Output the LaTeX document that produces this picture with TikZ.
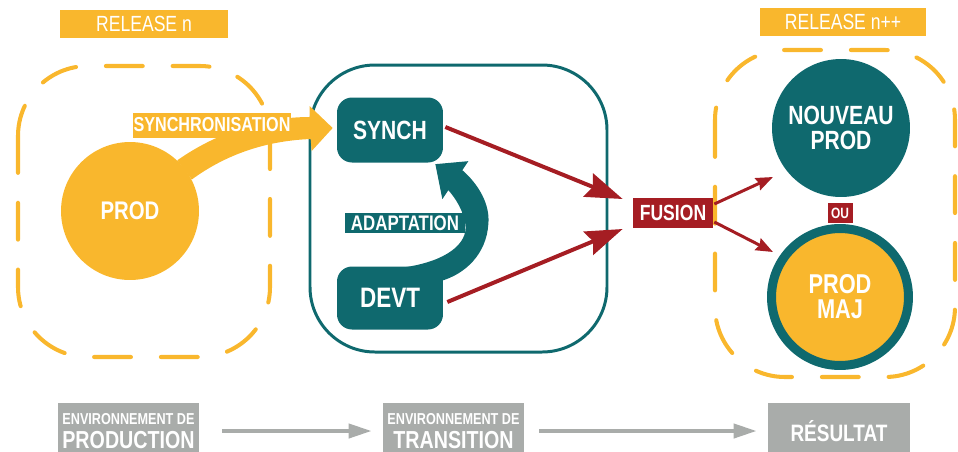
\documentclass[tikz,border=0pt]{standalone}
\usepackage{fontspec}
\setmainfont{Liberation Sans}[FakeStretch=0.8]
\usetikzlibrary{arrows.meta,calc}
\definecolor{ylw}{HTML}{F9B72D}
\definecolor{tl}{HTML}{0F696E}
\definecolor{rd}{HTML}{A51D23}
\definecolor{gr}{HTML}{A9ACAA}
\begin{document}
\begin{tikzpicture}[x=0.02cm,y=-0.02cm,
  dashbox/.style={draw=ylw, line width=2.3pt, dash pattern=on 21pt off 17pt, line cap=round, rounded corners=1.4cm},
  relbox/.style={fill=ylw, text=white, minimum width=3.36cm, minimum height=0.56cm, inner sep=0pt, font=\fontsize{12.5}{14}\selectfont},
  rbox/.style={fill=tl, rounded corners=0.3cm, minimum width=2.12cm, text=white, inner sep=0pt, font=\bfseries\fontsize{15}{16}\selectfont},
  bigcirc/.style={circle, inner sep=0pt, text=white, align=center, font=\bfseries\fontsize{14.5}{13.6}\selectfont},
  tagbox/.style={inner sep=0pt, text=white, font=\bfseries\fontsize{11.5}{12}\selectfont},
  envbox/.style={fill=gr, text=white, inner sep=0pt, minimum height=1.12cm, align=center, font=\bfseries\fontsize{14}{12.5}\selectfont},
  redarrow/.style={draw=rd, line width=0.08cm, -{Stealth[length=0.74cm,width=0.5cm,inset=0.1cm]}},
  smallarrow/.style={draw=rd, line width=0.06cm, -{Stealth[length=0.34cm,width=0.26cm,inset=0.04cm]}},
  grayarrow/.style={draw=gr, line width=0.08cm, -{Triangle[length=0.46cm,width=0.28cm]}},
]
\useasboundingbox (0,0) rectangle (958,451);

% release labels
\node[relbox] (rel1) at (144,24) {RELEASE n};
\node[relbox, minimum width=3.34cm] (rel2) at (843,22) {RELEASE n++};

% dashed groups and transition frame
\draw[dashbox] (18,66) rectangle (270,357);
\draw[dashbox] (715,50) rectangle (955,377);
\draw[draw=tl, line width=1.7pt, rounded corners=1.3cm] (310,65) rectangle (607,352);

% main nodes
\node[bigcirc, fill=ylw, minimum size=2.76cm] (prod) at (130,211) {PROD};
\node[rbox, minimum height=1.3cm] (synch) at (390,130) {SYNCH};
\node[rbox, minimum height=1.26cm, font=\bfseries\fontsize{16}{17}\selectfont] (devt) at (390,298) {DEVT};
\node[tagbox, fill=rd, minimum width=1.6cm, minimum height=0.6cm, font=\bfseries\fontsize{12.5}{13}\selectfont] (fusion) at (673,213) {FUSION};
\node[bigcirc, fill=tl, minimum size=2.76cm, font=\bfseries\fontsize{15}{13.8}\selectfont] (nouveau) at (841,128) {NOUVEAU\\PROD};
\node[bigcirc, fill=ylw, draw=tl, line width=0.18cm, minimum size=2.74cm, font=\bfseries\fontsize{15.5}{14.2}\selectfont] (prodmaj) at (840,297) {PROD\\MAJ};
\node[tagbox, fill=rd, minimum width=0.5cm, minimum height=0.4cm, font=\bfseries\fontsize{8.5}{9}\selectfont] (ou) at (840,213) {OU};

% synchronisation arrow
\fill[ylw] (prod.47) .. controls +(40,-28) and +(-45,0) .. ($(synch.west)+(-27,-13)$)
  -- ($(synch.west)+(-27,-24)$) -- ($(synch.west)+(-4,-2)$) -- ($(synch.west)+(-25,21)$)
  -- ($(synch.west)+(-26,9)$) .. controls +(-50,2) and +(30,-22) .. (prod.27) -- cycle;
\node[tagbox, fill=ylw, minimum width=3.18cm, minimum height=0.5cm] (synclab) at (212,125) {SYNCHRONISATION};

% adaptation arrow
\coordinate (A) at (devt.north east);
\fill[tl] ($(A)+(-38,1)$) .. controls ($(A)+(2,-5)$) and ($(A)+(25,-22)$) .. ($(A)+(22,-42)$)
  .. controls ($(A)+(20,-55)$) and ($(A)+(13,-67)$) .. ($(A)+(5,-76)$)
  -- ($(A)+(-1,-67)$) -- ($(A)+(-8,-102)$) -- ($(A)+(25,-105)$) -- ($(A)+(19,-96)$)
  .. controls ($(A)+(35,-82)$) and ($(A)+(47,-62)$) .. ($(A)+(45,-42)$)
  .. controls ($(A)+(43,-12)$) and ($(A)+(22,8)$) .. ($(A)+(-3,15)$) -- cycle;
\node[tagbox, fill=tl, minimum width=2.4cm, minimum height=0.4cm, font=\bfseries\fontsize{12}{13}\selectfont] (adapt) at (405,223) {ADAPTATION};

% red arrows into fusion
\coordinate (f1) at ($(fusion.west)+(-10,-14)$);
\coordinate (f2) at ($(fusion.west)+(-10,16)$);
\draw[redarrow] ($(synch.east)+(2,-3)$) -- (f1);
\draw[redarrow] ($(devt.east)+(4,4)$) -- (f2);

% small arrows out of fusion
\coordinate (n1) at (773,177);
\coordinate (n2) at (773,252);
\draw[smallarrow] ($(fusion.east)+(1,-9)$) -- (n1);
\draw[smallarrow] ($(fusion.east)+(1,9)$) -- (n2);

% bottom row
\node[envbox, minimum width=2.82cm] (b1) at (128.5,431) {{\fontsize{9}{10}\selectfont ENVIRONNEMENT DE}\\[1pt]PRODUCTION};
\node[envbox, minimum width=2.82cm] (b2) at (453.5,431) {{\fontsize{9}{10}\selectfont ENVIRONNEMENT DE}\\[1pt]TRANSITION};
\node[envbox, minimum width=2.84cm, font=\bfseries\fontsize{13.5}{14}\selectfont] (b3) at (839,431) {RÉSULTAT};
\draw[grayarrow, shorten <=0.46cm, shorten >=0.22cm] (b1.east) -- (b2.west);
\draw[grayarrow, shorten <=0.3cm, shorten >=0.22cm] (b2.east) -- (b3.west);
\end{tikzpicture}
\end{document}
